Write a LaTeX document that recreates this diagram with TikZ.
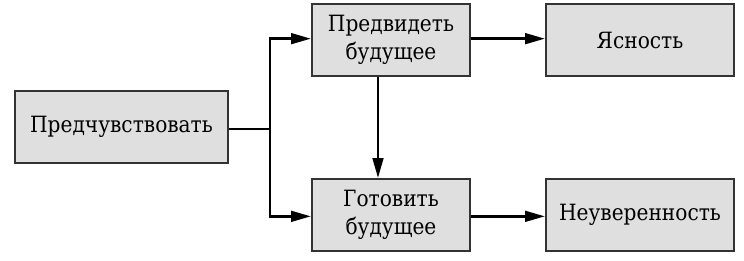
\documentclass[tikz,border=0pt]{standalone}
\usepackage{fontspec}
\setmainfont{DejaVu Serif Condensed}
\usetikzlibrary{arrows.meta}
\definecolor{boxfill}{HTML}{DFDFDF}
\definecolor{boxline}{HTML}{333333}
\begin{document}
\begin{tikzpicture}[x=0.75pt,y=-0.75pt,
  box/.style={draw=boxline,fill=boxfill,line width=1.5pt,minimum height=54pt,
    inner sep=0pt,align=center,font=\fontsize{16.8pt}{21pt}\selectfont},
  conn/.style={line width=2pt,black},
  arr/.style={conn,-{Triangle[length=15pt,width=8pt]}}]
\useasboundingbox (0,0) rectangle (744,261);
\node[box,minimum width=159.75pt] (A) at (121.5,127) {Предчувствовать};
\node[box,minimum width=118.5pt] (B) at (391,40) {Предвидеть\\будущее};
\node[box,minimum width=141pt] (C) at (640,40) {Ясность};
\node[box,minimum width=118.5pt] (D) at (391,215) {Готовить\\будущее};
\node[box,minimum width=141pt] (E) at (640,215) {Неуверенность};
\coordinate (split) at (270,129);
\draw[conn] (A.east |- split) -- (split);
\draw[arr] (split) |- ([yshift=1pt]B.west);
\draw[arr] (split) |- ([yshift=-1pt]D.west);
\draw[arr] ([yshift=1pt]B.east) -- ([yshift=1pt]C.west);
\draw[arr] ([xshift=-9.75pt]B.south) -- ([xshift=-9.75pt]D.north);
\draw[arr] ([yshift=-1pt]D.east) -- ([yshift=-1pt]E.west);
\end{tikzpicture}
\end{document}
